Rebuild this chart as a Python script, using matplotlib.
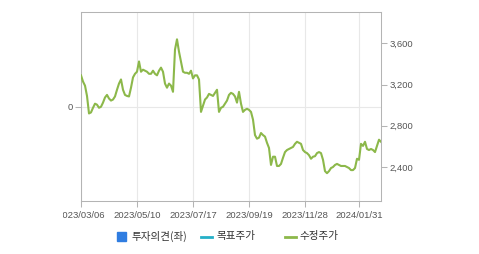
import matplotlib
matplotlib.use("Agg")
import matplotlib.pyplot as plt
from matplotlib.patches import Rectangle
from matplotlib.lines import Line2D
from matplotlib.transforms import Bbox, TransformedBbox
import numpy as np

# ---- data (sampled adjusted price, KRW) ----
prices = [
    3290, 3230, 3190, 3090, 2920, 2930, 2975, 3015, 3005, 2975,
    2985, 3025, 3075, 3100, 3065, 3045, 3055, 3085, 3150, 3210,
    3250, 3150, 3100, 3090, 3085, 3170, 3270, 3305, 3325, 3425,
    3325, 3345, 3335, 3325, 3305, 3305, 3335, 3305, 3290, 3335,
    3365, 3325, 3210, 3170, 3210, 3190, 3130, 3540, 3640, 3520,
    3425, 3325, 3315, 3315, 3305, 3335, 3260, 3290, 3290, 3250,
    2935, 2995, 3055, 3075, 3110, 3100, 3090, 3120, 3150, 2935,
    2975, 2985, 3015, 3045, 3100, 3120, 3110, 3085, 3025, 3130,
    3015, 2935, 2955, 2965, 2955, 2935, 2860, 2710, 2675, 2685,
    2730, 2710, 2695, 2635, 2585, 2420, 2500, 2500, 2410, 2410,
    2430, 2490, 2545, 2565, 2575, 2585, 2595, 2625, 2645, 2635,
    2625, 2565, 2545, 2535, 2515, 2480, 2500, 2505, 2535, 2545,
    2535, 2470, 2360, 2340, 2360, 2390, 2400, 2420, 2430, 2420,
    2410, 2410, 2410, 2400, 2390, 2370, 2370, 2390, 2480, 2470,
    2625, 2605, 2645, 2575, 2565, 2575, 2565, 2545, 2605, 2665,
    2645,
]
tick_index = [0, 28, 56, 84, 112, 139]
tick_labels = ["2023/03/06", "2023/05/10", "2023/07/17",
               "2023/09/19", "2023/11/28", "2024/01/31"]
price_ticks = [2400, 2800, 3200, 3600]
opinion_ticks = [0]
legend_labels = ["투자의견(좌)", "목표주가", "수정주가"]

W, H = 479, 254
fig = plt.figure(figsize=(W / 100, H / 100), dpi=100)
fig.patch.set_facecolor("white")

L, R, T, B = 81, 381, 12, 201
ax = fig.add_axes([L / W, 1 - B / H, (R - L) / W, (B - T) / H])
ax2 = ax.twinx()

frame = "#b4b4b4"
grid = "#e8e8e8"
tickc = "#555555"
numfont = "Liberation Sans"

x = np.arange(len(prices))
ax.set_xlim(0, len(prices) - 1)
ax.set_ylim(-1, 1)
ax.set_yticks(opinion_ticks)
ax.set_yticklabels([str(v) for v in opinion_ticks])
ax.set_xticks(tick_index)
ax.set_xticklabels(tick_labels)
ax.grid(True, color=grid, lw=0.8)
ax.set_axisbelow(True)

ax2.plot(x, prices, color="#8cb84a", lw=1.5, solid_joinstyle="round")
ax2.set_ylim(2070, 3905)
ax2.set_yticks(price_ticks)
ax2.set_yticklabels([f"{v:,}" for v in price_ticks])

for s in ax.spines.values():
    s.set_color(frame)
    s.set_linewidth(0.75)
ax.spines["right"].set_visible(False)
for name, s in ax2.spines.items():
    s.set_color(frame)
    s.set_linewidth(0.75)
    if name != "right":
        s.set_visible(False)

for a in (ax, ax2):
    a.tick_params(colors=frame, labelcolor=tickc, length=4, width=0.75,
                  labelsize=6.8, pad=2)
    for lab in a.get_xticklabels() + a.get_yticklabels():
        lab.set_fontfamily(numfont)

ax.tick_params(axis="x", pad=3)

# first date label is clipped on its left side in the reference
first = ax.get_xticklabels()[0]
first.set_clip_box(TransformedBbox(Bbox.from_extents(62.5 / W, 0, 1, 1), fig.transFigure))
first.set_clip_on(True)

# ---- legend (manual) ----
def fx(px):
    return px / W

def fy(py):
    return 1 - py / H

ly = 236.5
fig.patches.append(Rectangle((fx(116.7), fy(241)), 9.3 / W, 9.3 / H,
                             transform=fig.transFigure, color="#2f7de1",
                             figure=fig))
fig.lines.append(Line2D([fx(200.7), fx(211.7)], [fy(ly), fy(ly)],
                        transform=fig.transFigure, color="#25b0c8", lw=2,
                        figure=fig))
fig.lines.append(Line2D([fx(285), fx(296)], [fy(ly), fy(ly)],
                        transform=fig.transFigure, color="#8cb84a", lw=2,
                        figure=fig))
for px, txt in zip([131.7, 216, 299.3], legend_labels):
    fig.text(fx(px), fy(ly), txt, ha="left", va="center", fontsize=7.6,
             color="#333333", family=["Noto Sans CJK KR", "DejaVu Sans"])

fig.savefig("out.png", dpi=100, facecolor="white")
